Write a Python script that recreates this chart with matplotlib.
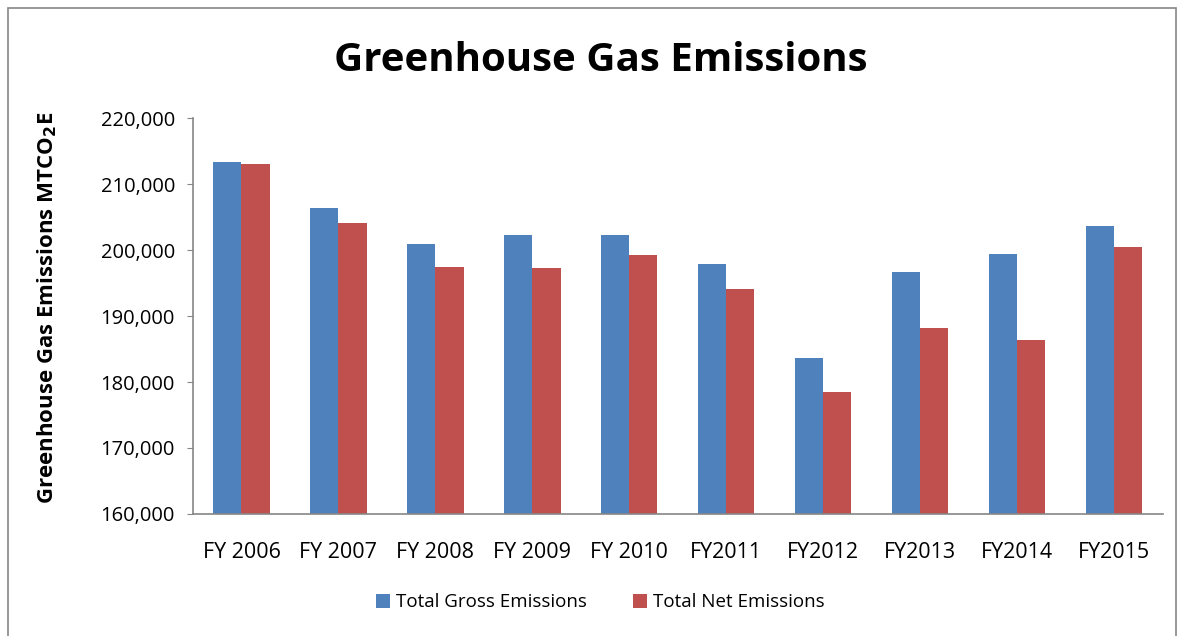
import matplotlib
matplotlib.use("Agg")
import matplotlib.pyplot as plt
from matplotlib.patches import Rectangle
from matplotlib.ticker import FuncFormatter
import numpy as np

years = ["FY 2006", "FY 2007", "FY 2008", "FY 2009", "FY 2010",
         "FY2011", "FY2012", "FY2013", "FY2014", "FY2015"]
gross = [213300, 206400, 200900, 202300, 202300, 197900, 183600, 196700, 199400, 203600]
net = [213000, 204100, 197400, 197300, 199200, 194100, 178500, 188200, 186400, 200500]

blue = "#4f81bd"
red = "#c0504d"

plt.rcParams['font.family'] = ['Open Sans', 'DejaVu Sans']

fig = plt.figure(figsize=(11.84, 6.36), dpi=100)
ax = fig.add_axes([0.163, 0.192, 0.819, 0.622])

x = np.arange(len(years))
w = 0.29
ax.bar(x - w / 2, gross, w, color=blue, label="Total Gross Emissions", zorder=2)
ax.bar(x + w / 2, net, w, color=red, label="Total Net Emissions", zorder=2)

ax.set_xlim(-0.5, len(years) - 0.5)
ax.set_ylim(160000, 220000)
ax.set_yticks(np.arange(160000, 220001, 10000))
ax.yaxis.set_major_formatter(FuncFormatter(lambda v, p: f"{int(v):,}"))
ax.set_xticks(x)
ax.set_xticklabels(years)
ax.tick_params(axis='x', labelsize=15.5, colors='#000000', length=0, pad=20)
ax.tick_params(axis='y', labelsize=14.5, length=4, color='#868686',
               labelcolor='#000000', pad=9)

for s in ['top', 'right']:
    ax.spines[s].set_visible(False)
for s in ['left', 'bottom']:
    ax.spines[s].set_color('#868686')
    ax.spines[s].set_linewidth(1.2)

ax.set_ylabel("Greenhouse Gas Emissions MTCO$_\\mathbf{2}$E", fontsize=16,
              fontweight='bold')
ax.yaxis.set_label_coords(-0.138, 0.52)

fig.text(0.507, 0.905, "Greenhouse Gas Emissions", ha='center', va='center',
         fontsize=29, fontweight='bold')

fig.legend(loc='center', bbox_to_anchor=(0.507, 0.053), ncol=2, frameon=False,
           fontsize=13.5, handlelength=0.75, handleheight=0.75, columnspacing=2.5,
           handletextpad=0.3)

fig.patches.append(Rectangle((0.007, -0.1), 0.986, 1.087, transform=fig.transFigure,
                             fill=False, edgecolor='#868686', linewidth=1.2))

fig.savefig("out.png", dpi=100)
